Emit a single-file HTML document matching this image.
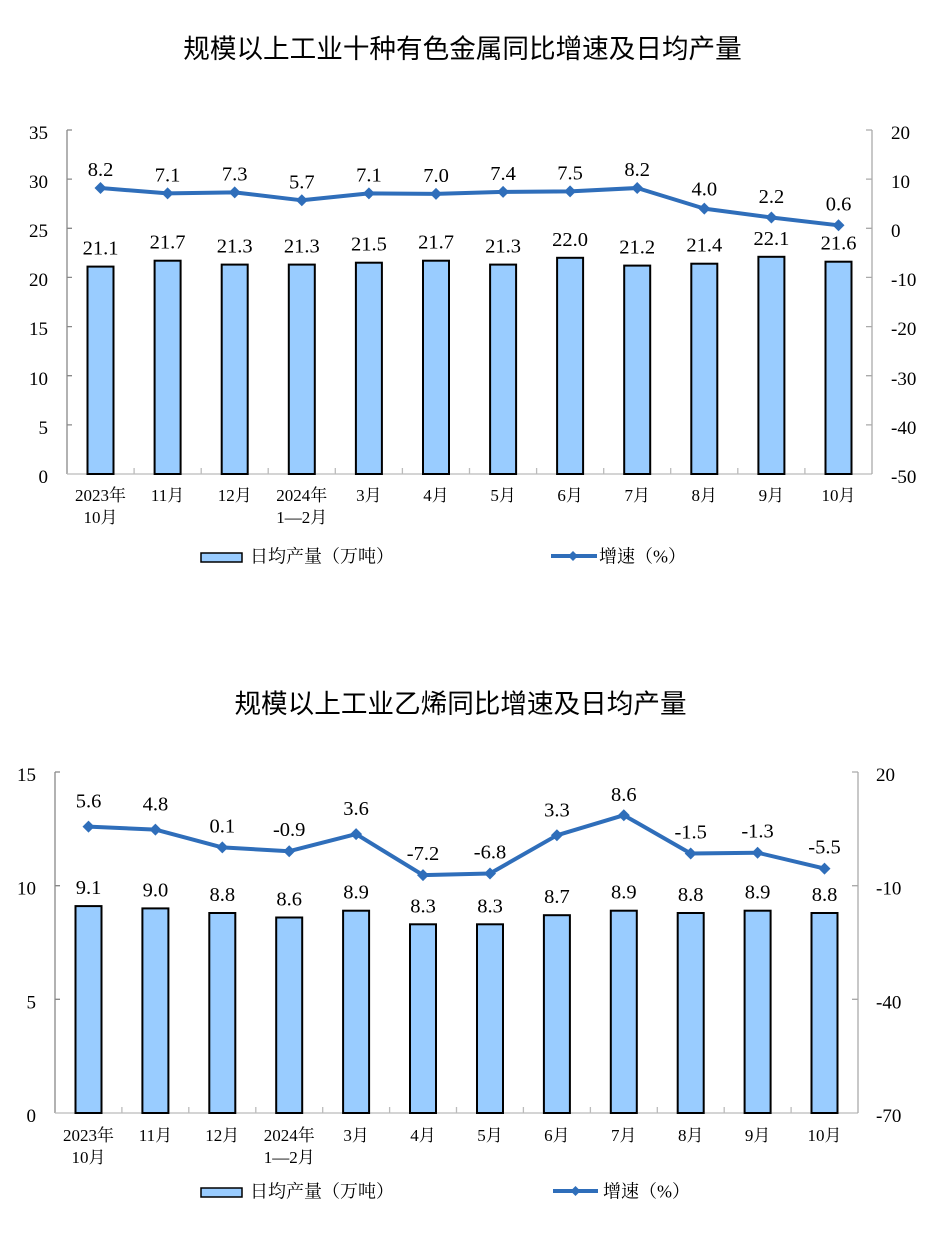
<!DOCTYPE html>
<html><head><meta charset="utf-8"><style>
html,body{margin:0;padding:0;background:#fff;}
svg{display:block;}
.t{font-family:"Liberation Sans","Noto Sans CJK SC",sans-serif;font-size:26.6px;fill:#000;}
.ax{font-family:"Liberation Serif","Noto Serif CJK SC",serif;font-size:19px;fill:#000;}
.dl{font-family:"Liberation Serif","Noto Serif CJK SC",serif;font-size:20.5px;fill:#000;text-anchor:middle;}
.cat{font-family:"Liberation Serif","Noto Serif CJK SC",serif;font-size:17px;fill:#000;text-anchor:middle;}
.lg{font-family:"Liberation Serif","Noto Serif CJK SC",serif;font-size:18px;fill:#000;}
</style></head><body>
<svg width="944" height="1246" viewBox="0 0 944 1246" xmlns="http://www.w3.org/2000/svg">
<rect width="944" height="1246" fill="#fff"/>

<!-- ===== TOP CHART ===== -->
<text class="t" x="462.5" y="58" text-anchor="middle">规模以上工业十种有色金属同比增速及日均产量</text>

<g stroke="#888" stroke-width="1.3" fill="none">
<line x1="67" y1="130" x2="67" y2="474"/>
<line x1="67" y1="474" x2="872" y2="474" stroke="#bbb"/>
<line x1="872" y1="130" x2="872" y2="474" stroke="#aaa"/>
<path d="M67 130h5M67 179.1h5M67 228.3h5M67 277.4h5M67 326.6h5M67 375.7h5M67 424.9h5"/>
<path d="M872 130h-6M872 179.1h-6M872 228.3h-6M872 277.4h-6M872 326.6h-6M872 375.7h-6M872 424.9h-6" stroke="#aaa"/>
<path d="M134.1 474v-6M201.2 474v-6M268.2 474v-6M335.3 474v-6M402.4 474v-6M469.5 474v-6M536.6 474v-6M603.7 474v-6M670.7 474v-6M737.8 474v-6M804.9 474v-6" stroke="#bbb"/>
</g>
<g class="ax" text-anchor="end">
<text x="48" y="139">35</text><text x="48" y="188">30</text><text x="48" y="237">25</text>
<text x="48" y="286">20</text><text x="48" y="335">15</text><text x="48" y="385">10</text>
<text x="48" y="434">5</text><text x="48" y="483">0</text>
</g>
<g class="ax">
<text x="891" y="139">20</text><text x="891" y="188">10</text><text x="891" y="237">0</text>
<text x="891" y="286">-10</text><text x="891" y="335">-20</text><text x="891" y="385">-30</text>
<text x="891" y="434">-40</text><text x="891" y="483">-50</text>
</g>

<g fill="#99CCFF" stroke="#000" stroke-width="2">
<rect x="87.5" y="266.6" width="26" height="207.4"/>
<rect x="154.6" y="260.7" width="26" height="213.3"/>
<rect x="221.7" y="264.6" width="26" height="209.4"/>
<rect x="288.8" y="264.6" width="26" height="209.4"/>
<rect x="355.9" y="262.7" width="26" height="211.3"/>
<rect x="423" y="260.7" width="26" height="213.3"/>
<rect x="490.1" y="264.6" width="26" height="209.4"/>
<rect x="557.1" y="257.8" width="26" height="216.2"/>
<rect x="624.2" y="265.6" width="26" height="208.4"/>
<rect x="691.3" y="263.7" width="26" height="210.3"/>
<rect x="758.4" y="256.8" width="26" height="217.2"/>
<rect x="825.5" y="261.7" width="26" height="212.3"/>
</g>
<g class="dl">
<text x="100.5" y="254.6">21.1</text>
<text x="167.6" y="248.7">21.7</text>
<text x="234.7" y="252.6">21.3</text>
<text x="301.8" y="252.6">21.3</text>
<text x="368.9" y="250.7">21.5</text>
<text x="436" y="248.7">21.7</text>
<text x="503.1" y="252.6">21.3</text>
<text x="570.1" y="245.8">22.0</text>
<text x="637.2" y="253.6">21.2</text>
<text x="704.3" y="251.7">21.4</text>
<text x="771.4" y="244.8">22.1</text>
<text x="838.5" y="249.7">21.6</text>
</g>

<polyline fill="none" stroke="#2F6EBA" stroke-width="4" stroke-linejoin="round" points="100.5,188 167.6,193.4 234.7,192.4 301.8,200.3 368.9,193.4 436,193.9 503.1,191.9 570.1,191.4 637.2,188 704.3,208.6 771.4,217.5 838.5,225.3"/>
<g fill="#2F6EBA">
<path d="M100.5 182l6 6-6 6-6-6z"/><path d="M167.6 187.4l6 6-6 6-6-6z"/><path d="M234.7 186.4l6 6-6 6-6-6z"/>
<path d="M301.8 194.3l6 6-6 6-6-6z"/><path d="M368.9 187.4l6 6-6 6-6-6z"/><path d="M436 187.9l6 6-6 6-6-6z"/>
<path d="M503.1 185.9l6 6-6 6-6-6z"/><path d="M570.1 185.4l6 6-6 6-6-6z"/><path d="M637.2 182l6 6-6 6-6-6z"/>
<path d="M704.3 202.6l6 6-6 6-6-6z"/><path d="M771.4 211.5l6 6-6 6-6-6z"/><path d="M838.5 219.3l6 6-6 6-6-6z"/>
</g>
<g class="dl">
<text x="100.5" y="176">8.2</text>
<text x="167.6" y="181.4">7.1</text>
<text x="234.7" y="180.4">7.3</text>
<text x="301.8" y="188.3">5.7</text>
<text x="368.9" y="181.4">7.1</text>
<text x="436" y="181.9">7.0</text>
<text x="503.1" y="179.9">7.4</text>
<text x="570.1" y="179.4">7.5</text>
<text x="637.2" y="176">8.2</text>
<text x="704.3" y="195.6">4.0</text>
<text x="771.4" y="203">2.2</text>
<text x="838.5" y="210.5">0.6</text>
</g>

<g class="cat">
<text x="100.5" y="501">2023年</text><text x="100.5" y="523">10月</text>
<text x="167.6" y="501">11月</text>
<text x="234.7" y="501">12月</text>
<text x="301.8" y="501">2024年</text><text x="301.8" y="523">1—2月</text>
<text x="368.9" y="501">3月</text>
<text x="436" y="501">4月</text>
<text x="503.1" y="501">5月</text>
<text x="570.1" y="501">6月</text>
<text x="637.2" y="501">7月</text>
<text x="704.3" y="501">8月</text>
<text x="771.4" y="501">9月</text>
<text x="838.5" y="501">10月</text>
</g>

<rect x="201" y="553" width="41" height="9" fill="#99CCFF" stroke="#000" stroke-width="1.5"/>
<text class="lg" x="250" y="562.5">日均产量（万吨）</text>
<line x1="551" y1="556" x2="597" y2="556" stroke="#2F6EBA" stroke-width="4"/>
<path d="M573 551l5 5-5 5-5-5z" fill="#2F6EBA"/>
<text class="lg" x="599" y="562.5">增速（%）</text>

<!-- ===== BOTTOM CHART ===== -->
<text class="t" x="460.5" y="713" text-anchor="middle">规模以上工业乙烯同比增速及日均产量</text>

<g stroke="#888" stroke-width="1.3" fill="none">
<line x1="55" y1="772" x2="55" y2="1113"/>
<line x1="55" y1="1113" x2="858" y2="1113" stroke="#bbb"/>
<line x1="858" y1="772" x2="858" y2="1113" stroke="#aaa"/>
<path d="M55 772h5M55 885.7h5M55 999.3h5"/>
<path d="M858 772h-6M858 885.7h-6M858 999.3h-6" stroke="#aaa"/>
<path d="M121.9 1113v-6M188.8 1113v-6M255.8 1113v-6M322.7 1113v-6M389.6 1113v-6M456.5 1113v-6M523.4 1113v-6M590.4 1113v-6M657.3 1113v-6M724.2 1113v-6M791.1 1113v-6" stroke="#bbb"/>
</g>
<g class="ax" text-anchor="end">
<text x="36" y="781">15</text><text x="36" y="894.7">10</text>
<text x="36" y="1008.3">5</text><text x="36" y="1122">0</text>
</g>
<g class="ax">
<text x="876" y="781">20</text><text x="876" y="894.7">-10</text>
<text x="876" y="1008.3">-40</text><text x="876" y="1122">-70</text>
</g>

<g fill="#99CCFF" stroke="#000" stroke-width="2">
<rect x="75.5" y="906.1" width="26" height="206.9"/>
<rect x="142.4" y="908.4" width="26" height="204.6"/>
<rect x="209.3" y="913" width="26" height="200"/>
<rect x="276.2" y="917.5" width="26" height="195.5"/>
<rect x="343.1" y="910.7" width="26" height="202.3"/>
<rect x="410" y="924.3" width="26" height="188.7"/>
<rect x="477" y="924.3" width="26" height="188.7"/>
<rect x="543.9" y="915.2" width="26" height="197.8"/>
<rect x="610.8" y="910.7" width="26" height="202.3"/>
<rect x="677.7" y="913" width="26" height="200"/>
<rect x="744.6" y="910.7" width="26" height="202.3"/>
<rect x="811.5" y="913" width="26" height="200"/>
</g>
<g class="dl">
<text x="88.5" y="894.1">9.1</text>
<text x="155.4" y="896.4">9.0</text>
<text x="222.3" y="901">8.8</text>
<text x="289.2" y="905.5">8.6</text>
<text x="356.1" y="898.7">8.9</text>
<text x="423" y="912.3">8.3</text>
<text x="490" y="912.3">8.3</text>
<text x="556.9" y="903.2">8.7</text>
<text x="623.8" y="898.7">8.9</text>
<text x="690.7" y="901">8.8</text>
<text x="757.6" y="898.7">8.9</text>
<text x="824.5" y="901">8.8</text>
</g>

<polyline fill="none" stroke="#2F6EBA" stroke-width="4" stroke-linejoin="round" points="88.5,826.6 155.4,829.6 222.3,847.4 289.2,851.2 356.1,834.1 423,875.1 490,873.5 556.9,835.3 623.8,815.2 690.7,853.5 757.6,852.7 824.5,868.6"/>
<g fill="#2F6EBA">
<path d="M88.5 820.6l6 6-6 6-6-6z"/><path d="M155.4 823.6l6 6-6 6-6-6z"/><path d="M222.3 841.4l6 6-6 6-6-6z"/>
<path d="M289.2 845.2l6 6-6 6-6-6z"/><path d="M356.1 828.1l6 6-6 6-6-6z"/><path d="M423 869.1l6 6-6 6-6-6z"/>
<path d="M490 867.5l6 6-6 6-6-6z"/><path d="M556.9 829.3l6 6-6 6-6-6z"/><path d="M623.8 809.2l6 6-6 6-6-6z"/>
<path d="M690.7 847.5l6 6-6 6-6-6z"/><path d="M757.6 846.7l6 6-6 6-6-6z"/><path d="M824.5 862.6l6 6-6 6-6-6z"/>
</g>
<g class="dl">
<text x="88.5" y="807.6">5.6</text>
<text x="155.4" y="810.6">4.8</text>
<text x="222.3" y="832.4">0.1</text>
<text x="289.2" y="836.2">-0.9</text>
<text x="356.1" y="815.1">3.6</text>
<text x="423" y="860.1">-7.2</text>
<text x="490" y="858.5">-6.8</text>
<text x="556.9" y="816.3">3.3</text>
<text x="623.8" y="801.2">8.6</text>
<text x="690.7" y="838.5">-1.5</text>
<text x="757.6" y="837.7">-1.3</text>
<text x="824.5" y="853.6">-5.5</text>
</g>

<g class="cat">
<text x="88.5" y="1141">2023年</text><text x="88.5" y="1163">10月</text>
<text x="155.4" y="1141">11月</text>
<text x="222.3" y="1141">12月</text>
<text x="289.2" y="1141">2024年</text><text x="289.2" y="1163">1—2月</text>
<text x="356.1" y="1141">3月</text>
<text x="423" y="1141">4月</text>
<text x="490" y="1141">5月</text>
<text x="556.9" y="1141">6月</text>
<text x="623.8" y="1141">7月</text>
<text x="690.7" y="1141">8月</text>
<text x="757.6" y="1141">9月</text>
<text x="824.5" y="1141">10月</text>
</g>

<rect x="201" y="1188" width="41" height="9" fill="#99CCFF" stroke="#000" stroke-width="1.5"/>
<text class="lg" x="250" y="1197.5">日均产量（万吨）</text>
<line x1="553" y1="1191" x2="598" y2="1191" stroke="#2F6EBA" stroke-width="4"/>
<path d="M575.5 1186l5 5-5 5-5-5z" fill="#2F6EBA"/>
<text class="lg" x="603" y="1197.5">增速（%）</text>
</svg>
</body></html>
